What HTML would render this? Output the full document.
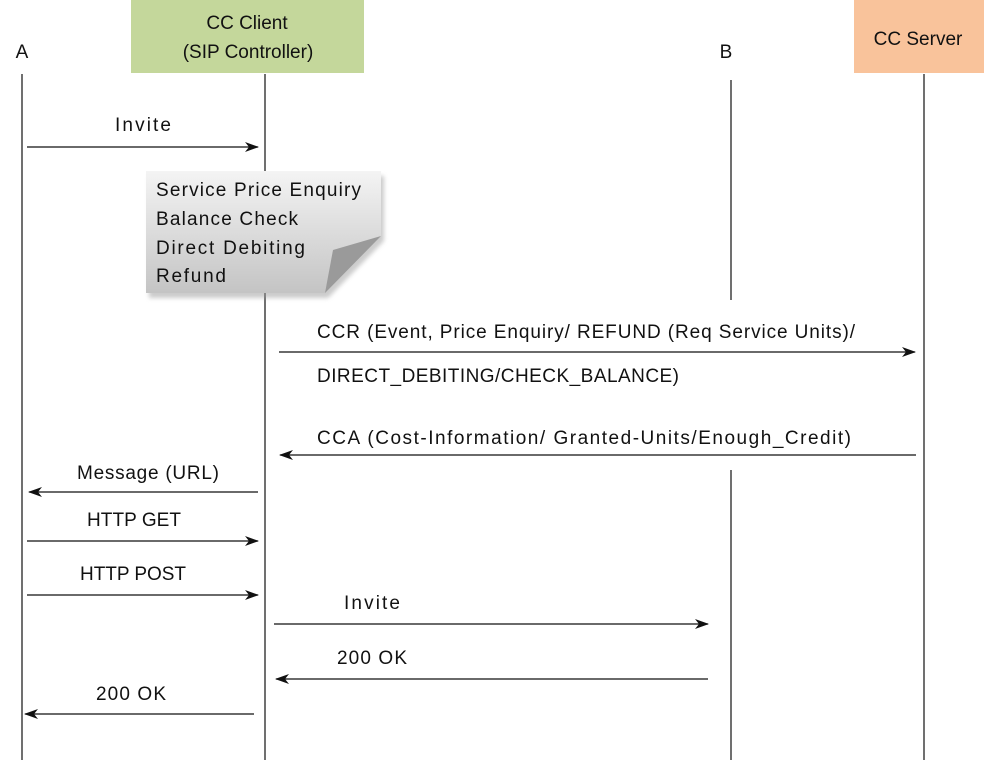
<!DOCTYPE html>
<html><head><meta charset="utf-8"><style>
html,body{margin:0;padding:0;background:#fff;}
svg{display:block;}
text{font-family:"Liberation Sans",sans-serif;font-size:19px;fill:#111;}
</style></head><body>
<svg width="984" height="763" viewBox="0 0 984 763" xmlns="http://www.w3.org/2000/svg">
<defs>
<marker id="ah" markerWidth="14" markerHeight="10" refX="13" refY="5" orient="auto" markerUnits="userSpaceOnUse">
<path d="M0,0 L14,5 L0,10 L4,5 Z" fill="#111"/>
</marker>
<linearGradient id="ng" x1="0" y1="0" x2="0" y2="1">
<stop offset="0" stop-color="#f4f4f4"/><stop offset="1" stop-color="#c4c4c4"/>
</linearGradient>
<filter id="sh" x="-10%" y="-10%" width="130%" height="130%"><feGaussianBlur stdDeviation="2"/></filter>
</defs>
<rect x="131" y="0" width="233" height="73" fill="#c4d79b"/>
<rect x="854" y="0" width="130" height="73" fill="#f9c39b"/>
<text x="247" y="29" text-anchor="middle">CC Client</text>
<text x="248" y="58" text-anchor="middle">(SIP Controller)</text>
<text x="918" y="45" text-anchor="middle">CC Server</text>
<text x="22" y="58" text-anchor="middle">A</text>
<text x="726" y="58" text-anchor="middle">B</text>
<g stroke="#111" stroke-width="1.2">
<line x1="22" y1="74" x2="22" y2="760"/>
<line x1="265" y1="74" x2="265" y2="760"/>
<line x1="731" y1="80" x2="731" y2="300"/>
<line x1="731" y1="470" x2="731" y2="760"/>
<line x1="924" y1="74" x2="924" y2="760"/>
</g>
<path d="M149,176 L384,176 L384,241 L328,298 L149,298 Z" fill="#999" opacity="0.5" filter="url(#sh)"/>
<path d="M146,171 L381,171 L381,236 L325,293 L146,293 Z" fill="url(#ng)"/>
<path d="M381,236 L333,250 L325,293 Z" fill="#9a9a9a"/>
<text x="156" y="196" textLength="205">Service Price Enquiry</text>
<text x="156" y="225" textLength="142">Balance Check</text>
<text x="156" y="254" textLength="149">Direct Debiting</text>
<text x="156" y="282" textLength="70">Refund</text>
<g stroke="#111" stroke-width="1.2" marker-end="url(#ah)">
<line x1="27" y1="147" x2="258" y2="147"/>
<line x1="279" y1="352" x2="915" y2="352"/>
<line x1="916" y1="455" x2="280" y2="455"/>
<line x1="258" y1="492" x2="29" y2="492"/>
<line x1="27" y1="541" x2="258" y2="541"/>
<line x1="27" y1="595" x2="258" y2="595"/>
<line x1="274" y1="624" x2="708" y2="624"/>
<line x1="708" y1="679" x2="276" y2="679"/>
<line x1="254" y1="714" x2="25" y2="714"/>
</g>
<text x="115" y="131" textLength="56">Invite</text>
<text x="317" y="338" textLength="538">CCR (Event, Price Enquiry/ REFUND (Req Service Units)/</text>
<text x="317" y="382" textLength="362">DIRECT_DEBITING/CHECK_BALANCE)</text>
<text x="317" y="444" textLength="534">CCA (Cost-Information/ Granted-Units/Enough_Credit)</text>
<text x="77" y="479" textLength="142">Message (URL)</text>
<text x="87" y="526" textLength="94">HTTP GET</text>
<text x="80" y="580" textLength="106">HTTP POST</text>
<text x="344" y="609" textLength="56">Invite</text>
<text x="337" y="664" textLength="70">200 OK</text>
<text x="96" y="700" textLength="70">200 OK</text>
</svg>
</body></html>
